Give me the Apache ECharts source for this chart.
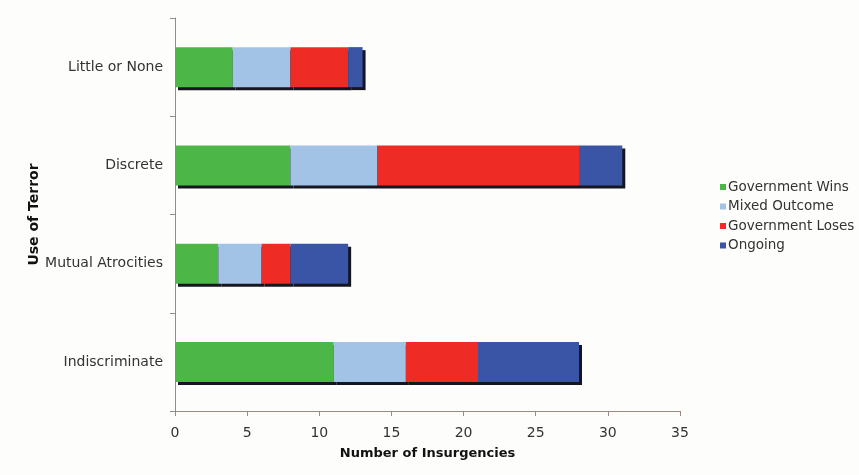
<!DOCTYPE html>
<html><head><meta charset="utf-8">
<script src="https://cdn.jsdelivr.net/npm/echarts@6/dist/echarts.min.js"></script>
<style>html,body{margin:0;padding:0;background:#fdfdfb}#c{width:859px;height:475px}</style>
</head><body><div id="c"></div>
<script>
var categories = ['Indiscriminate', 'Mutual Atrocities', 'Discrete', 'Little or None'];
var seriesNames = ['Government Wins', 'Mixed Outcome', 'Government Loses', 'Ongoing'];
var govWins = [11, 3, 8, 4];
var mixed = [5, 3, 6, 4];
var govLoses = [5, 2, 14, 4];
var ongoing = [7, 4, 3, 1];
var xTicks = [0, 5, 10, 15, 20, 25, 30, 35];
var colors = ['#4cb747', '#a3c3e6', '#ee2b24', '#3a55a6'];
var values = [govWins, mixed, govLoses, ongoing];

var font = 'DejaVu Sans, Verdana, sans-serif';
var chart = echarts.init(document.getElementById('c'));
chart.setOption({
  backgroundColor: '#fdfdfb',
  animation: false,
  grid: {left: 175, right: 179, top: 18, bottom: 64},
  legend: {
    orient: 'vertical', left: 715, top: 175,
    itemWidth: 6, itemHeight: 6, itemGap: 5.5,
    icon: 'rect',
    textStyle: {fontFamily: font, fontSize: 13.5, color: '#333', padding: [0, 0, 0, -3]},
    data: seriesNames
  },
  xAxis: {
    type: 'value', min: 0, max: 35, interval: 5,
    name: 'Number of Insurgencies', nameLocation: 'middle', nameGap: 36,
    nameTextStyle: {fontFamily: font, fontSize: 13, fontWeight: 'bold', color: '#111'},
    axisLine: {show: true, lineStyle: {color: '#9a8a82', width: 1}},
    axisTick: {show: true, length: 5, lineStyle: {color: '#9a8a82'}},
    axisLabel: {fontFamily: font, fontSize: 14, color: '#333', margin: 15,
      formatter: function (v) { return xTicks.indexOf(v) >= 0 ? String(v) : ''; }},
    splitLine: {show: false}
  },
  yAxis: {
    type: 'category', data: categories,
    name: 'Use of Terror', nameLocation: 'middle', nameGap: 134, nameRotate: 90,
    nameMoveOverlap: false,
    nameTextStyle: {fontFamily: font, fontSize: 14, fontWeight: 'bold', color: '#111'},
    axisLine: {show: true, lineStyle: {color: '#9a8a82', width: 1}},
    axisTick: {show: true, length: 5, lineStyle: {color: '#9a8a82'}},
    axisLabel: {fontFamily: font, fontSize: 14, color: '#333', margin: 12}
  },
  series: seriesNames.map(function (n, i) {
    return {
      name: n, type: 'bar', stack: 'total', data: values[i],
      barWidth: 40,
      itemStyle: {color: colors[i], shadowColor: 'rgba(10,10,20,0.95)', shadowOffsetX: 3, shadowOffsetY: 3, shadowBlur: 0}
    };
  })
});
</script></body></html>
